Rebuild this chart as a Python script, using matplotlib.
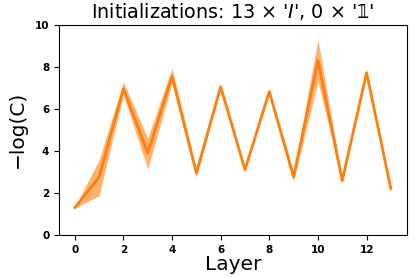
import matplotlib
matplotlib.use("Agg")
import matplotlib.pyplot as plt
import numpy as np

layers = list(range(14))
mean_vals = [1.30, 2.75, 6.95, 3.89, 7.54, 2.95, 7.05, 3.10, 6.82, 2.75, 8.30, 2.58, 7.72, 2.20]
upper_vals = [1.32, 3.57, 7.28, 4.60, 7.92, 3.12, 7.12, 3.17, 6.88, 3.00, 9.29, 2.62, 7.76, 2.23]
lower_vals = [1.28, 1.87, 6.67, 3.13, 7.22, 2.75, 6.98, 3.03, 6.76, 2.58, 7.30, 2.54, 7.68, 2.17]

fig = plt.figure(figsize=(4.16, 2.77), dpi=100)
ax = fig.add_axes([59/416, 1-235/277, (406.7-59)/416, (235-24.7)/277])
color = '#ff7f0e'
ax.fill_between(layers, lower_vals, upper_vals, color=color, alpha=0.6, linewidth=0)
ax.plot(layers, mean_vals, color=color, linewidth=2)
ax.set_ylim(0, 10)
ax.set_xticks([0, 2, 4, 6, 8, 10, 12])
ax.set_yticks([0, 2, 4, 6, 8, 10])
ax.tick_params(labelsize=7.5)
for lab in ax.get_xticklabels() + ax.get_yticklabels():
    lab.set_fontweight('bold')
ax.set_xlabel('Layer', fontsize=14.5, labelpad=0)
ax.set_ylabel('\u2212log(C)', fontsize=14.5, labelpad=6)
ax.set_title("Initializations: 13 × '$I$', 0 × '\U0001D7D9'", fontsize=13.8, pad=5)
fig.savefig('out.png', dpi=100)
